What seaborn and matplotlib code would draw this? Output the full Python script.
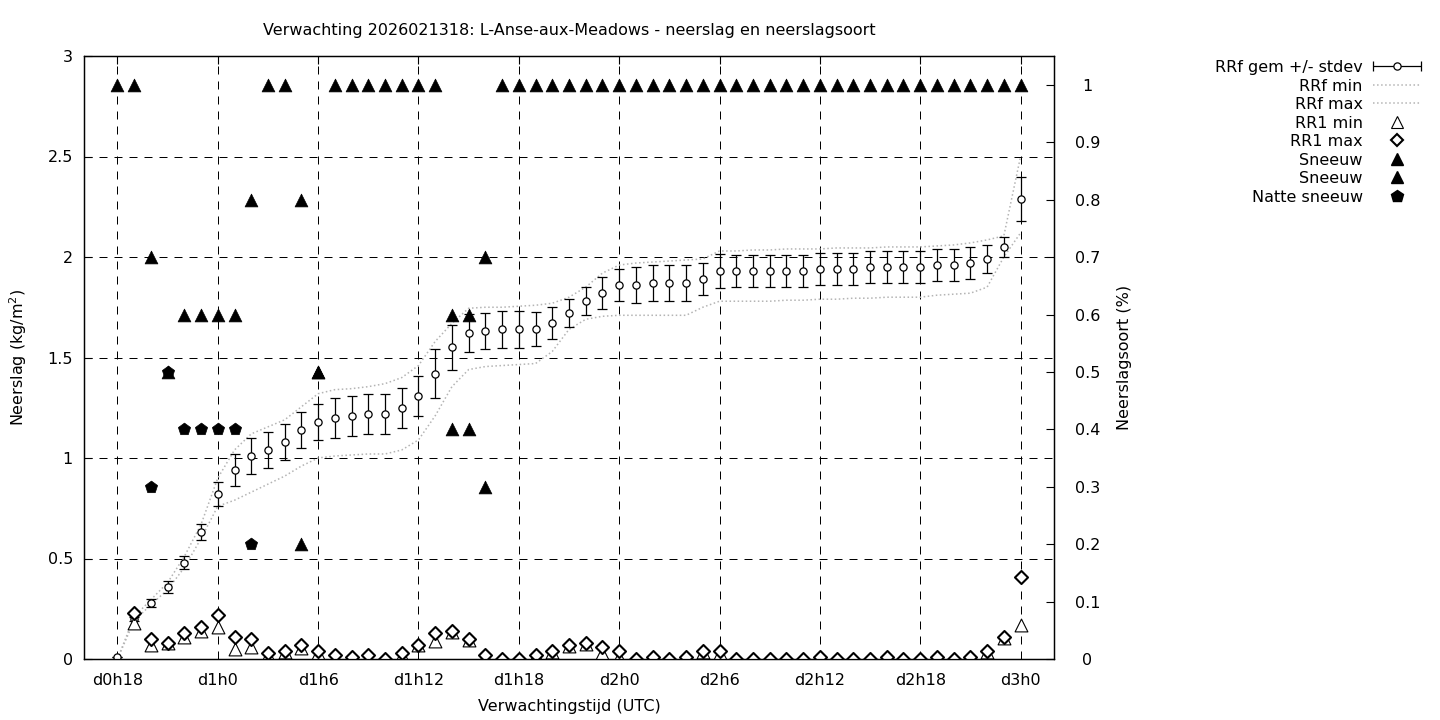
import numpy as np
import pandas as pd
import seaborn as sns
import matplotlib
matplotlib.use('Agg')
import matplotlib.pyplot as plt
from matplotlib.lines import Line2D
from matplotlib.container import ErrorbarContainer
from matplotlib.legend_handler import HandlerErrorbar
from matplotlib.ticker import FuncFormatter

# forecast hours (d0h18 .. d3h0)
uur = list(range(18, 73))
tick_uren = [18, 24, 30, 36, 42, 48, 54, 60, 66, 72]
tick_labels = ['d0h18', 'd1h0', 'd1h6', 'd1h12', 'd1h18', 'd2h0', 'd2h6', 'd2h12', 'd2h18', 'd3h0']

# RRf: cumulative precipitation (kg/m2)
rrf_gem = [0.01, 0.20, 0.28, 0.36, 0.48, 0.63, 0.82, 0.94, 1.01, 1.04, 1.08, 1.14, 1.18, 1.20, 1.21, 1.22, 1.22,
           1.25, 1.31, 1.42, 1.55, 1.62, 1.63, 1.64, 1.64, 1.64, 1.67, 1.72, 1.78, 1.82, 1.86, 1.86, 1.87, 1.87,
           1.87, 1.89, 1.93, 1.93, 1.93, 1.93, 1.93, 1.93, 1.94, 1.94, 1.94, 1.95, 1.95, 1.95, 1.95, 1.96, 1.96,
           1.97, 1.99, 2.05, 2.29]
rrf_std = [0.0, 0.01, 0.02, 0.03, 0.03, 0.04, 0.06, 0.08, 0.09, 0.09, 0.09, 0.09, 0.09, 0.10, 0.10, 0.10, 0.10,
           0.10, 0.10, 0.12, 0.11, 0.095, 0.09, 0.093, 0.093, 0.085, 0.08, 0.07, 0.07, 0.08, 0.08, 0.09, 0.09, 0.09,
           0.09, 0.08, 0.085, 0.08, 0.08, 0.08, 0.08, 0.08, 0.08, 0.08, 0.08, 0.08, 0.08, 0.08, 0.08, 0.08, 0.08,
           0.08, 0.07, 0.05, 0.11]
rrf_min = [0.0, 0.19, 0.27, 0.345, 0.455, 0.60, 0.76, 0.79, 0.83, 0.87, 0.91, 0.96, 1.00, 1.01, 1.015, 1.02, 1.02,
           1.04, 1.09, 1.21, 1.355, 1.44, 1.455, 1.46, 1.465, 1.47, 1.53, 1.64, 1.69, 1.705, 1.71, 1.71, 1.71, 1.71,
           1.71, 1.75, 1.78, 1.78, 1.78, 1.78, 1.785, 1.785, 1.79, 1.79, 1.795, 1.795, 1.80, 1.80, 1.80, 1.81, 1.815,
           1.82, 1.85, 2.00, 2.12]
rrf_max = [0.0, 0.21, 0.295, 0.38, 0.51, 0.67, 0.90, 1.04, 1.12, 1.155, 1.19, 1.255, 1.32, 1.34, 1.345, 1.355, 1.37,
           1.40, 1.46, 1.58, 1.67, 1.745, 1.75, 1.75, 1.755, 1.76, 1.77, 1.80, 1.85, 1.92, 1.96, 1.97, 1.975, 1.98,
           1.985, 1.99, 2.03, 2.03, 2.035, 2.035, 2.04, 2.04, 2.04, 2.045, 2.045, 2.045, 2.05, 2.05, 2.05, 2.055,
           2.06, 2.07, 2.085, 2.105, 2.50]

# RR1: hourly precipitation (kg/m2)
rr1_min = [np.nan, 0.18, 0.07, 0.08, 0.11, 0.14, 0.16, 0.05, 0.06, 0.02, 0.035, 0.055, 0.03, 0.01, 0.0, 0.0, 0.0,
           0.02, 0.07, 0.09, 0.135, 0.095, 0.015, 0.0, 0.0, 0.02, 0.035, 0.065, 0.075, 0.03, 0.01, 0.0, 0.0, 0.0,
           0.005, 0.035, 0.03, 0.0, 0.0, 0.0, 0.0, 0.0, 0.0, 0.0, 0.0, 0.0, 0.0, 0.0, 0.0, 0.0, 0.0, 0.0, 0.035,
           0.105, 0.17]
rr1_max = [np.nan, 0.23, 0.10, 0.08, 0.13, 0.16, 0.22, 0.11, 0.10, 0.03, 0.04, 0.07, 0.04, 0.02, 0.01, 0.02, 0.0,
           0.03, 0.07, 0.13, 0.14, 0.10, 0.02, 0.0, 0.0, 0.02, 0.04, 0.07, 0.08, 0.06, 0.04, 0.0, 0.01, 0.0, 0.01,
           0.04, 0.04, 0.0, 0.0, 0.0, 0.0, 0.0, 0.01, 0.0, 0.0, 0.0, 0.01, 0.0, 0.0, 0.01, 0.0, 0.01, 0.04, 0.11,
           0.41]

# precipitation type fractions (right axis)
sneeuw = [1.0, 1.0, 0.7, 0.5, 0.6, 0.6, 0.6, 0.6, 0.8, 1.0, 1.0, 0.8, 0.5, 1.0, 1.0, 1.0, 1.0, 1.0, 1.0, 1.0,
          0.6, 0.6, 0.7] + [1.0] * 32
sneeuw2 = [np.nan] * 11 + [0.2, 0.5] + [np.nan] * 7 + [0.4, 0.4, 0.3] + [np.nan] * 32
natte_sneeuw = [np.nan, np.nan, 0.3, 0.5, 0.4, 0.4, 0.4, 0.4, 0.2] + [np.nan] * 46

df = pd.DataFrame({'uur': uur, 'rrf_gem': rrf_gem, 'rrf_std': rrf_std, 'rrf_min': rrf_min,
                   'rrf_max': rrf_max, 'rr1_min': rr1_min, 'rr1_max': rr1_max, 'sneeuw': sneeuw,
                   'sneeuw2': sneeuw2, 'natte_sneeuw': natte_sneeuw})

sns.set_theme(style='white', rc={'axes.edgecolor': 'black', 'axes.linewidth': 0.9,
                                 'text.color': 'black', 'axes.labelcolor': 'black',
                                 'xtick.color': 'black', 'ytick.color': 'black'})
plt.rcParams['font.family'] = ['DejaVu Sans']
fs = 11.5

fig, ax = plt.subplots(figsize=(14.4, 7.2), dpi=100)
fig.subplots_adjust(left=84/1440, right=1054/1440, top=1-56/720, bottom=1-659/720)

grey = '#b4b4b4'
ax.errorbar(df.uur, df.rrf_gem, yerr=df.rrf_std, fmt='o', ms=5.2, mfc='white', mec='black', mew=0.9,
            ecolor='black', elinewidth=0.9, capsize=3.6, capthick=0.9, zorder=3)
sns.lineplot(data=df, x='uur', y='rrf_min', ax=ax, color=grey, linestyle=':', lw=1.1, estimator=None, zorder=2)
sns.lineplot(data=df, x='uur', y='rrf_max', ax=ax, color=grey, linestyle=':', lw=1.1, estimator=None, zorder=2)
sns.scatterplot(data=df, x='uur', y='rr1_min', ax=ax, marker='^', s=85, color='white', edgecolor='black',
                linewidth=0.8, zorder=4)
sns.scatterplot(data=df, x='uur', y='rr1_max', ax=ax, marker='D', s=44, color='white', edgecolor='black',
                linewidth=1.5, zorder=5)

ax.set_xlim(16, 74)
ax.set_ylim(0, 3)
ax.set_xticks(tick_uren)
ax.set_xticklabels(tick_labels)
ax.set_yticks(np.arange(0, 3.01, 0.5))
ax.yaxis.set_major_formatter(FuncFormatter(lambda v, p: '%g' % round(v, 2)))
ax.grid(True, color='black', linestyle=(0, (8, 7)), lw=0.72)
ax.tick_params(axis='both', direction='in', length=6, width=0.8, labelsize=fs)
ax.tick_params(axis='x', top=True, pad=10)
ax.tick_params(axis='y', right=True, pad=8)
ax.set_xlabel('Verwachtingstijd (UTC)', fontsize=fs, labelpad=8)
ax.set_ylabel('Neerslag (kg/m$^2$)', fontsize=fs, labelpad=13)
ax.set_title('Verwachting 2026021318: L-Anse-aux-Meadows - neerslag en neerslagsoort', fontsize=fs, pad=15)

ax2 = ax.twinx()
sns.scatterplot(data=df, x='uur', y='sneeuw', ax=ax2, marker='^', s=85, color='black', edgecolor='black',
                linewidth=0.5)
sns.scatterplot(data=df, x='uur', y='sneeuw2', ax=ax2, marker='^', s=85, color='black', edgecolor='black',
                linewidth=0.5)
sns.scatterplot(data=df, x='uur', y='natte_sneeuw', ax=ax2, marker='p', s=85, color='black', edgecolor='black',
                linewidth=0.5)
ax2.set_ylim(0, 603/574)
ax2.set_yticks(np.arange(0, 1.01, 0.1))
ax2.yaxis.set_major_formatter(FuncFormatter(lambda v, p: '%g' % round(v, 2)))
ax2.tick_params(axis='y', direction='in', length=6, width=0.8, labelsize=fs, pad=24)
for t in ax2.get_yticklabels():
    t.set_ha('center')
ax2.set_ylabel('Neerslagsoort (%)', fontsize=fs, labelpad=12)
ax2.grid(False)
ax2.set_xlim(16, 74)

# legend
eb_proxy = ax.errorbar([np.nan], [np.nan], xerr=[np.nan], fmt='o', ms=5.2, mfc='white', mec='black', mew=0.9,
                       ecolor='black', elinewidth=0.9, capsize=3.6, capthick=0.9)
handles = [eb_proxy,
           Line2D([], [], color=grey, linestyle=':', lw=1.1),
           Line2D([], [], color=grey, linestyle=':', lw=1.1),
           Line2D([], [], ls='none', marker='^', ms=9.2, mfc='white', mec='black', mew=0.8),
           Line2D([], [], ls='none', marker='D', ms=6.6, mfc='white', mec='black', mew=1.5),
           Line2D([], [], ls='none', marker='^', ms=9.2, color='black'),
           Line2D([], [], ls='none', marker='^', ms=9.2, color='black'),
           Line2D([], [], ls='none', marker='p', ms=9.2, color='black')]
labels = ['RRf gem +/- stdev', 'RRf min', 'RRf max', 'RR1 min', 'RR1 max', 'Sneeuw', 'Sneeuw', 'Natte sneeuw']
fig.legend(handles, labels, loc='upper right', bbox_to_anchor=(1421/1440, 1-60/720), frameon=False,
           markerfirst=False, handlelength=3.0, handletextpad=0.65, labelspacing=0.22, borderpad=0,
           borderaxespad=0, fontsize=fs, handler_map={ErrorbarContainer: HandlerErrorbar(xerr_size=1.5)})

fig.savefig('out.png', dpi=100, facecolor='white')
